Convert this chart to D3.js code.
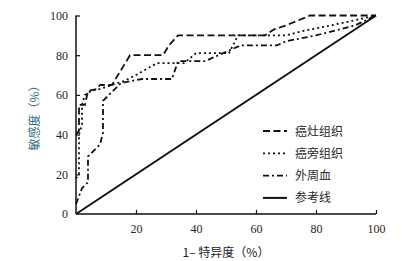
<!DOCTYPE html>
<html lang="zh">
<head>
<meta charset="UTF-8">
<title>ROC</title>
<script src="https://d3js.org/d3.v7.min.js"></script>
<style>
  body { margin: 0; background: #fff; }
  svg text { font-family: "Liberation Serif", "Noto Sans CJK SC", serif; }
</style>
</head>
<body>
<div id="chart"></div>
<script>
// tick values
const xTicks = [0, 20, 40, 60, 80, 100];
const yTicks = [0, 20, 40, 60, 80, 100];

// ROC curves: [1-specificity, sensitivity] in %
const cancerTissue = [[0, 40], [1, 42], [1, 55], [3, 55], [4, 62], [7, 63], [8, 65], [12, 65], [14, 70],
  [16, 75], [18, 80], [29, 80], [31, 85], [34, 90], [63, 90], [66, 93], [70, 95], [78, 100], [100, 100]];
const adjacentTissue = [[0, 18], [1, 20], [1, 40], [2, 45], [2, 55], [3, 60], [5, 62], [8, 63], [12, 65],
  [16, 67], [20, 70], [27, 76], [36, 76], [40, 81], [51, 81], [54, 90], [70, 90], [75, 92], [85, 95], [100, 100]];
const peripheralBlood = [[0, 5], [2, 13], [4, 16], [4, 29], [8, 35], [9, 41], [9, 57], [11, 60], [15, 66],
  [22, 68], [32, 68], [34, 77], [43, 77], [55, 85], [67, 85], [70, 87], [80, 90], [93, 95], [100, 100]];
const reference = [[0, 0], [100, 100]];

const series = [
  { name: "癌灶组织", data: cancerTissue, dash: "7,3.5" },
  { name: "癌旁组织", data: adjacentTissue, dash: "2,3" },
  { name: "外周血", data: peripheralBlood, dash: "6,3,2,3" },
  { name: "参考线", data: reference, dash: null }
];

const width = 407, height = 261;
const svg = d3.select("#chart").append("svg")
  .attr("width", width)
  .attr("height", height);

const x = d3.scaleLinear().domain([0, 100]).range([76, 376]);
const y = d3.scaleLinear().domain([0, 100]).range([214, 15.5]);

// axes with inward ticks
const xAxis = svg.append("g")
  .attr("transform", `translate(0,${y(0)})`)
  .call(d3.axisBottom(x).tickValues(xTicks.slice(1)).tickSizeInner(-4).tickSizeOuter(0).tickPadding(10));
const yAxis = svg.append("g")
  .attr("transform", `translate(${x(0)},0)`)
  .call(d3.axisLeft(y).tickValues(yTicks).tickSizeInner(-4).tickSizeOuter(0).tickPadding(8));

[xAxis, yAxis].forEach(g => {
  g.select(".domain").attr("stroke", "#111").attr("stroke-width", 1.5);
  g.selectAll(".tick line").attr("stroke", "#111").attr("stroke-width", 1.2);
  g.selectAll(".tick text")
    .attr("fill", "#2b2420")
    .style("font-size", "12px")
    .style("font-family", "'Liberation Serif', serif");
});
yAxis.selectAll(".tick").filter(d => d === 0).select("line").remove();
xAxis.select(".domain").attr("d", `M${x(0)},0H${x(100)}`);
yAxis.select(".domain").attr("d", `M0,${y(0)}V${y(100)}`);

// curves
const line = d3.line().x(d => x(d[0])).y(d => y(d[1]));
series.forEach(s => {
  svg.append("path")
    .datum(s.data)
    .attr("d", line)
    .attr("fill", "none")
    .attr("stroke", "#111")
    .attr("stroke-width", s.dash ? 1.8 : 2)
    .attr("stroke-dasharray", s.dash);
});

// legend
const legend = svg.append("g").attr("transform", "translate(263,131)");
series.forEach((s, i) => {
  const row = legend.append("g").attr("transform", `translate(0,${i * 22.3})`);
  row.append("line")
    .attr("x1", 0).attr("x2", 24)
    .attr("stroke", "#111")
    .attr("stroke-width", s.dash ? 1.8 : 2)
    .attr("stroke-dasharray", s.dash);
  row.append("text")
    .attr("x", 32).attr("y", 4.5)
    .attr("fill", "#2a2a2a")
    .style("font-size", "12px")
    .style("font-family", "'Noto Sans CJK SC', sans-serif")
    .text(s.name);
});

// axis titles
svg.append("text")
  .attr("x", 226).attr("y", 257)
  .attr("text-anchor", "middle")
  .attr("fill", "#222")
  .style("font-size", "12px")
  .style("font-family", "'Noto Sans CJK SC', sans-serif")
  .text("1– 特异度（%）");

svg.append("text")
  .attr("transform", "translate(39,115) rotate(-90)")
  .attr("text-anchor", "middle")
  .attr("fill", "#2f6f7e")
  .style("font-size", "12px")
  .style("font-family", "'Noto Sans CJK SC', sans-serif")
  .text("敏感度（%）");
</script>
</body>
</html>
